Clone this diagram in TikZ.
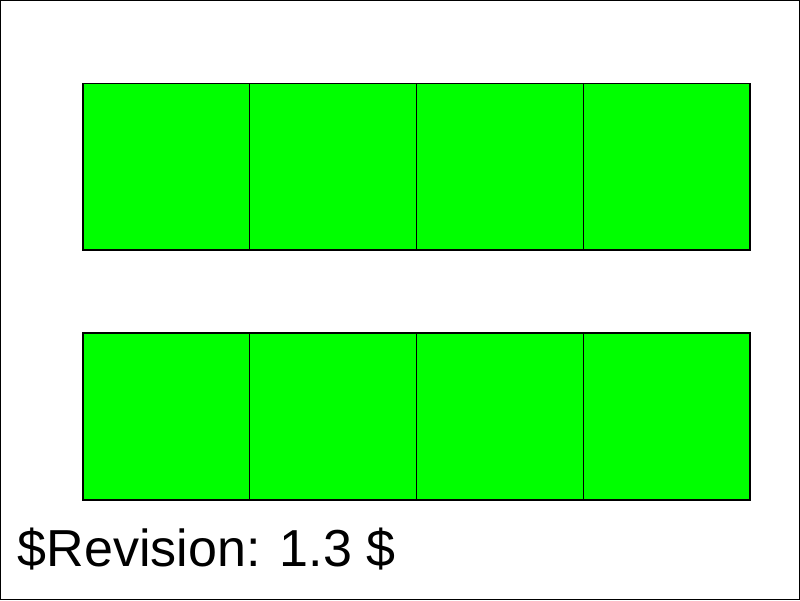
\documentclass[tikz,border=0pt]{standalone}
\usepackage{fontspec}
\setmainfont{Liberation Sans}
\usetikzlibrary{positioning}

\begin{document}
\begin{tikzpicture}[x=0.01cm,y=0.01cm]
 \draw [line width=0.3pt](0.5,0.5) rectangle (799.5,599.5); 
 \foreach \i in {0,1,2,3}{
 \draw[line width=0.3pt,fill=green](83+166.75*\i,350)rectangle(83+166.75*\i+166.75,517); 
 \draw[line width=0.3pt,fill=green](83+166.75*\i,100)rectangle(83+166.75*\i+166.75,267); 
 }
 \node[anchor=base west,inner sep=0pt,font=\fontsize{14.8}{18}\selectfont](rev) at (17,33) {\$Revision: 1.3 \$}; 
\end{tikzpicture}
\end{document}
